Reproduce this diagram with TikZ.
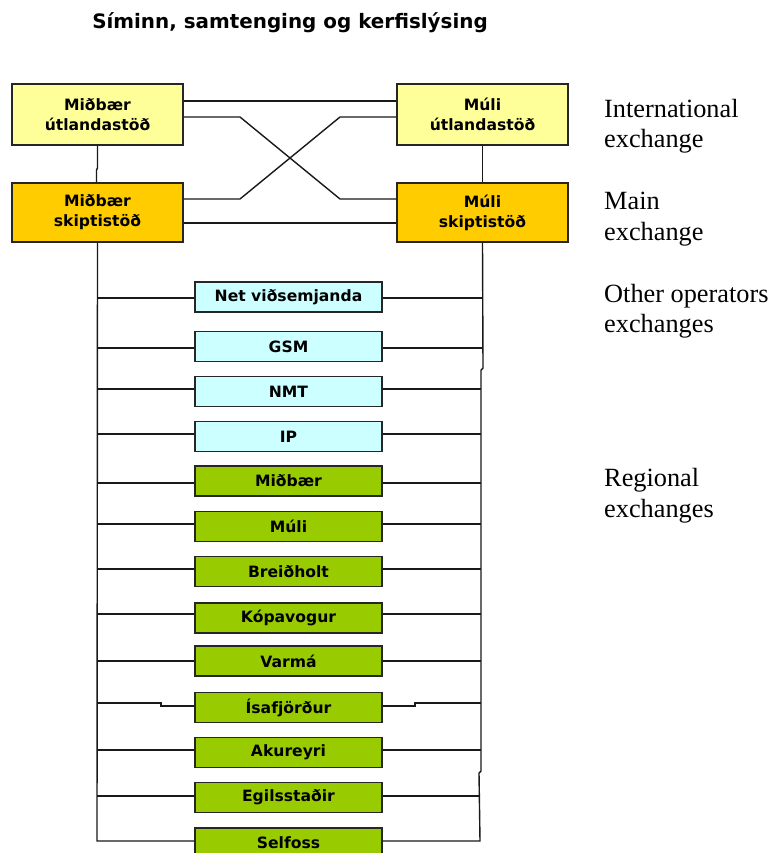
\documentclass[tikz,border=0pt]{standalone}
\usepackage{fontspec}
\setmainfont{Liberation Serif}
\newfontfamily\boxfont{DejaVu Sans}
\begin{document}
\begin{tikzpicture}[x=1pt,y=-1pt,
  box/.style={draw=black!85,line width=1.5pt,inner sep=0pt,align=center,
    font=\boxfont\bfseries\fontsize{15.6}{20}\selectfont},
  bigbox/.style={box,minimum width=171pt},
  smallbox/.style={box,minimum width=187pt,minimum height=30pt},
  intl/.style={bigbox,fill=intlc,minimum height=61pt},
  mainx/.style={bigbox,fill=mainc,minimum height=59pt},
  oper/.style={smallbox,fill=operc},
  regio/.style={smallbox,fill=regc},
  wire/.style={line width=1.4pt,black!90},
  lbl/.style={anchor=base west,inner sep=0pt,font=\fontsize{26.3}{30}\selectfont}]
\definecolor{intlc}{HTML}{FFFF99}
\definecolor{mainc}{HTML}{FFCC00}
\definecolor{operc}{HTML}{CCFFFF}
\definecolor{regc}{HTML}{99CC00}
\useasboundingbox (0,0) rectangle (772,853);

\node[anchor=center,inner sep=0pt,font=\boxfont\bfseries\fontsize{19.9}{22}\selectfont] (title) at (290,23) {Síminn, samtenging og kerfislýsing};

\node[intl] (mu) at (97.5,114.5) {Miðbær\\útlandastöð};
\node[mainx] (ms) at (97.5,212.5) {Miðbær\\skiptistöð};
\node[intl] (lu) at (482.5,114.5) {Múli\\útlandastöð};
\node[mainx] (ls) at (482.5,212.5) {Múli\\skiptistöð};

\node[lbl] (l1a) at (604,118) {International};
\node[lbl] (l1b) at (604,148) {exchange};
\node[lbl] (l2a) at (604,209) {Main};
\node[lbl] (l2b) at (604,240) {exchange};
\node[lbl] (l3a) at (604,302) {Other operators};
\node[lbl] (l3b) at (604,332) {exchanges};
\node[lbl] (l4a) at (604,486) {Regional};
\node[lbl] (l4b) at (604,517) {exchanges};

\node[oper] (b1) at (288.5,297) {Net viðsemjanda};
\node[oper] (b2) at (288.5,346.5) {GSM};
\node[oper] (b3) at (288.5,391.5) {NMT};
\node[oper] (b4) at (288.5,436.5) {IP};
\node[regio] (b5) at (288.5,481) {Miðbær};
\node[regio] (b6) at (288.5,526.5) {Múli};
\node[regio] (b7) at (288.5,571.5) {Breiðholt};
\node[regio] (b8) at (288.5,618) {Kópavogur};
\node[regio] (b9) at (288.5,661) {Varmá};
\node[regio] (b10) at (288.5,707.5) {Ísafjörður};
\node[regio] (b11) at (288.5,752.5) {Akureyri};
\node[regio] (b12) at (288.5,797.5) {Egilsstaðir};
\node[regio] (b13) at (288.5,843) {Selfoss};

% international / main interconnections
\draw[wire] ([yshift=13.5pt]mu.east) -- ([yshift=13.5pt]lu.west);
\draw[wire] ([yshift=-2.5pt]mu.east) -- (240,117) -- (340,199) -- ([yshift=13.5pt]ls.west);
\draw[wire] ([yshift=13.5pt]ms.east) -- (240,199) -- (340,117) -- ([yshift=-2.5pt]lu.west);
\draw[wire] ([yshift=-10.5pt]ms.east) -- ([yshift=-10.5pt]ls.west);
\draw[wire] (mu.south) -- (97.5,168) -- (96.5,170) -- (ms.north -| 96.5,0);
\draw[wire] (lu.south) -- (ls.north);

% buses
\coordinate (lbot) at (97,841);
\coordinate (rbot) at (480,841);
\draw[wire] (ms.south) -- (lbot) -- (b13.west |- lbot);
\draw[wire] (ls.south) -- (483,368) -- (481,370) -- (481,771) -- (479,773) -- (rbot) -- (b13.east |- rbot);

\foreach \b/\y/\xr in {b1/298/483,b2/348/483,b3/389/481,b4/434/481,b5/483/481,b6/524/481,
  b7/569/481,b8/614/481,b9/661/481,b11/750/481,b12/796/479}{
  \draw[wire] (\b.west |- 0,\y) -- (97,\y);
  \draw[wire] (\b.east |- 0,\y) -- (\xr,\y);
}
\draw[wire] (b10.west |- 0,706) -- (161,706) -- (161,703) -- (97,703);
\draw[wire] (b10.east |- 0,706) -- (415,706) -- (415,703) -- (481,703);
\end{tikzpicture}
\end{document}
